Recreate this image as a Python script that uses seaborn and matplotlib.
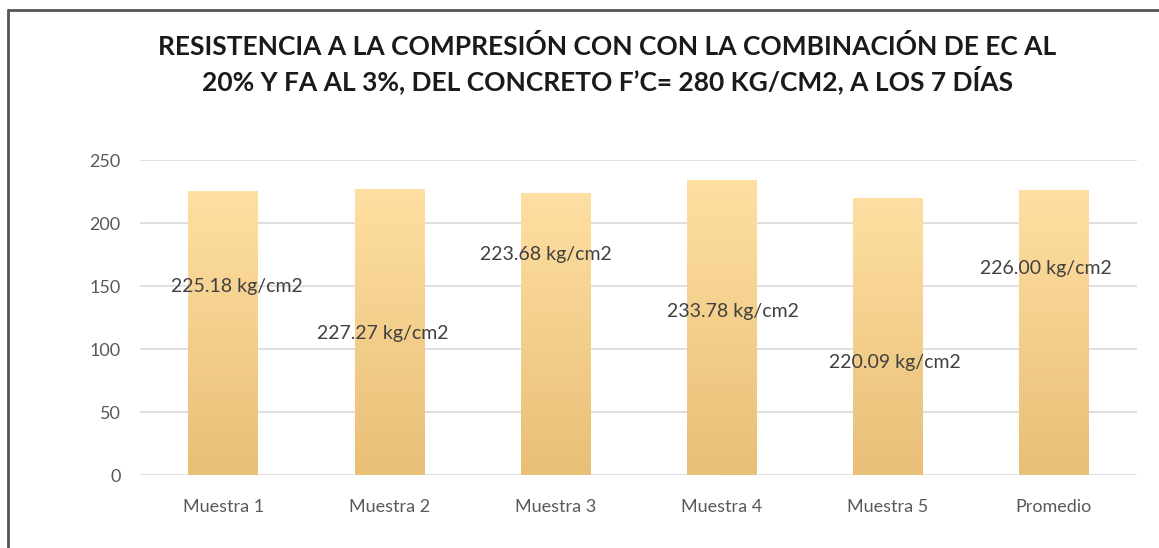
import matplotlib.pyplot as plt
import matplotlib.patheffects as pe
import numpy as np
import pandas as pd
import seaborn as sns
from matplotlib.colors import LinearSegmentedColormap

categorias = ["Muestra 1", "Muestra 2", "Muestra 3", "Muestra 4", "Muestra 5", "Promedio"]
resistencia = [225.18, 227.27, 223.68, 233.78, 220.09, 226.00]
etiquetas = ["225.18 kg/cm2", "227.27 kg/cm2", "223.68 kg/cm2",
             "233.78 kg/cm2", "220.09 kg/cm2", "226.00 kg/cm2"]
yticks = [0, 50, 100, 150, 200, 250]

titulo = ("RESISTENCIA A LA COMPRESIÓN CON CON LA COMBINACIÓN DE EC AL\n"
          "20% Y FA AL 3%, DEL CONCRETO F’C= 280 KG/CM2, A LOS 7 DÍAS")

data = pd.DataFrame({"categoria": categorias, "valor": resistencia})

sns.set_style("white")
plt.rcParams["font.family"] = ["Lato", "DejaVu Sans"]

fig = plt.figure(figsize=(11.59, 5.48), dpi=100)
ax = fig.add_axes([0.121, 0.133, 0.860, 0.575])

sns.barplot(data=data, x="categoria", y="valor", width=0.42, color="#F6CF8C",
            ax=ax, zorder=3)

# degradado vertical dentro de cada barra
cmap = LinearSegmentedColormap.from_list("grad", ["#E8BF76", "#FFDFA2"])
grad = np.linspace(0, 1, 256).reshape(-1, 1)
for bar in ax.patches:
    x0, y0 = bar.get_x(), bar.get_y()
    w, h = bar.get_width(), bar.get_height()
    bar.set_facecolor("none")
    bar.set_edgecolor("none")
    bar.set_path_effects([pe.SimplePatchShadow(offset=(0, 0), shadow_rgbFace="#b0a080",
                                               alpha=0.35), pe.Normal()])
    img = ax.imshow(grad, extent=[x0, x0 + w, y0, y0 + h], origin="lower",
                    cmap=cmap, aspect="auto", zorder=3)
    img.set_clip_path(bar)

ax.set_xlim(-0.5, len(categorias) - 0.5)
ax.set_ylim(0, 250)
ax.set_yticks(yticks)
ax.grid(axis="y", color="#D9D9D9", linewidth=1.2, zorder=0)
ax.set_axisbelow(True)
for s in ax.spines.values():
    s.set_visible(False)
ax.set_xlabel("")
ax.set_ylabel("")
ax.tick_params(axis="x", length=0, labelsize=13, colors="#595959", pad=17)
ax.tick_params(axis="y", length=0, labelsize=13, colors="#595959", pad=14)

# etiquetas de datos (posiciones como en el original)
label_y = [150, 112, 175, 130, 89, 164]
label_dx = [0.08, -0.04, -0.06, 0.07, 0.04, -0.05]
for i, txt in enumerate(etiquetas):
    ax.text(i + label_dx[i], label_y[i], txt, ha="center", va="center",
            fontsize=14, color="#404040", zorder=5)

fig.text(0.524, 0.883, titulo, ha="center", va="center", fontsize=19,
         fontweight="bold", color="#1a1a1a", linespacing=1.22)

# marco del gráfico
fig.add_artist(plt.Line2D([0.007, 0.007], [0, 0.982], color="#555555", linewidth=2))
fig.add_artist(plt.Line2D([0.007, 1.0], [0.982, 0.982], color="#555555", linewidth=2))

fig.savefig("out.png", dpi=100)
